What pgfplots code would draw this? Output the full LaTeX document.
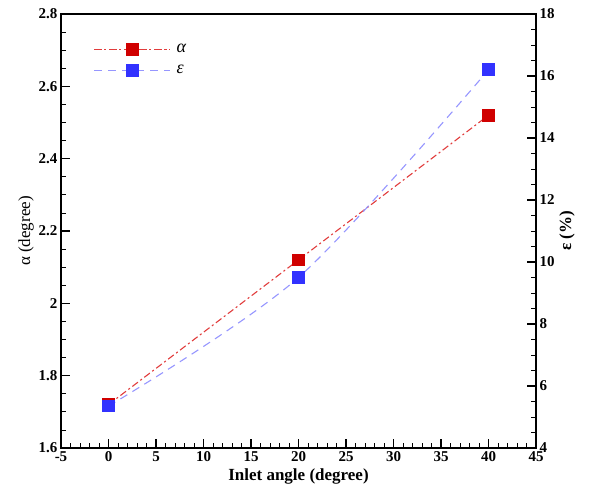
\documentclass[border=0pt]{standalone}
\usepackage{pgfplots}
\pgfplotsset{compat=1.18}
\usepackage{fontspec}
\setmainfont{Liberation Serif}
\definecolor{redm}{RGB}{208,0,0}
\definecolor{redl}{RGB}{225,60,60}
\definecolor{bluem}{RGB}{50,50,255}
\definecolor{bluel}{RGB}{150,150,255}
\newcommand{\tl}[1]{{\fontsize{15}{17}\selectfont\bfseries #1}}
\begin{document}
\begin{tikzpicture}[x=1pt,y=1pt]
\begin{axis}[
  scale only axis, width=475pt, height=434pt,
  at={(61pt,49pt)}, anchor=south west,
  xmin=-5, xmax=45, ymin=1.6, ymax=2.8,
  tick align=inside,
  major tick length=9pt, minor tick length=5pt,
  major tick style={line width=1.3pt, black},
  minor tick style={line width=0.8pt, black},
  axis line style={line width=1.8pt},
  xtick={-5,0,5,10,15,20,25,30,35,40,45}, minor x tick num=4,
  xticklabels={\tl{-5},\tl{0},\tl{5},\tl{10},\tl{15},\tl{20},\tl{25},\tl{30},\tl{35},\tl{40},\tl{45}},
  ytick={1.6,1.8,2,2.2,2.4,2.6,2.8}, minor y tick num=3,
  yticklabels={\tl{1.6},\tl{1.8},\tl{2},\tl{2.2},\tl{2.4},\tl{2.6},\tl{2.8}},
  xtick pos=bottom, ytick pos=left,
  xlabel={\fontsize{17}{20}\selectfont\bfseries Inlet angle (degree)},
  ylabel={\fontsize{17}{20}\selectfont α (degree)},
  ylabel style={yshift=-2pt},
  legend style={draw=none, fill=none, at={(axis description cs:0.062,0.942)}, anchor=north west,
     font=\fontsize{18}{20}\selectfont\itshape, row sep=5pt, legend cell align=left,
     nodes={inner xsep=6pt, inner ysep=3pt}},
  legend image code/.code={
    \draw[mark repeat=2,mark phase=2,#1] plot coordinates {(0pt,0pt)(38pt,0pt)(76pt,0pt)};},
]
\addplot[color=redl, line width=1.1pt, dash pattern=on 7pt off 3pt on 2pt off 3pt, smooth,
  mark=square*, mark size=5.75pt, mark options={solid, fill=redm, draw=redm}]
  coordinates {(0,1.72)(20,2.12)(40,2.52)};
\addlegendentry{α}
\addlegendimage{color=bluel, line width=1.1pt, dash pattern=on 8pt off 6pt,
  mark=square*, mark size=5.75pt, mark options={solid, fill=bluem, draw=bluem}}
\addlegendentry{ε}
\end{axis}
\begin{axis}[
  scale only axis, width=475pt, height=434pt,
  at={(61pt,49pt)}, anchor=south west,
  xmin=-5, xmax=45, ymin=4, ymax=18,
  axis x line=none, axis y line*=right,
  tick align=inside,
  major tick length=9pt, minor tick length=5pt,
  major tick style={line width=1.3pt, black},
  minor tick style={line width=0.8pt, black},
  axis line style={line width=1.8pt},
  ytick={4,6,8,10,12,14,16,18}, minor y tick num=3,
  yticklabels={\tl{4},\tl{6},\tl{8},\tl{10},\tl{12},\tl{14},\tl{16},\tl{18}},
  ylabel={\fontsize{17}{20}\selectfont\bfseries ε (\%)},
  ylabel style={yshift=2pt},
]
\addplot[color=bluel, line width=1.1pt, dash pattern=on 8pt off 6pt, smooth,
  mark=square*, mark size=5.75pt, mark options={solid, fill=bluem, draw=bluem}]
  coordinates {(0,5.35)(20,9.5)(40,16.2)};
\end{axis}
\pgfresetboundingbox
\path (0,0) rectangle (592,497);
\end{tikzpicture}
\end{document}
